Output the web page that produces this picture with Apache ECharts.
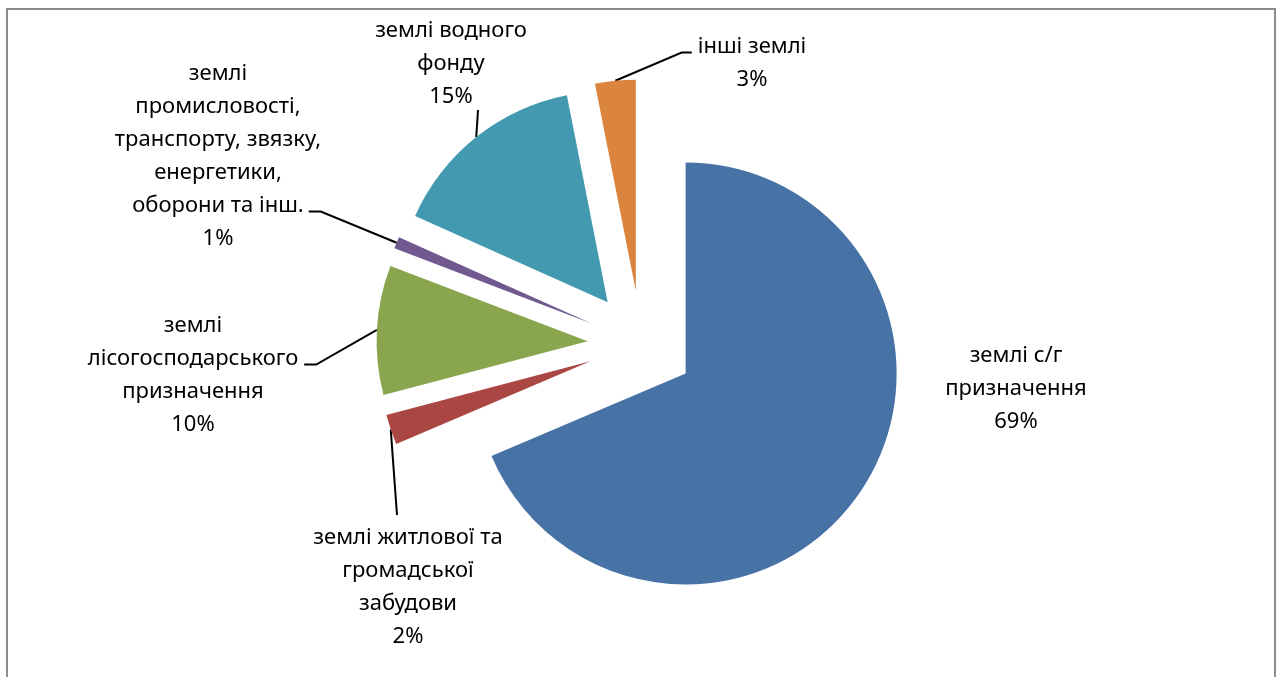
<!DOCTYPE html>
<html>
<head>
<meta charset="utf-8">
<script src="https://cdn.jsdelivr.net/npm/echarts@6/dist/echarts.min.js"></script>
<style>
html,body{margin:0;padding:0;background:#fff;}
#chart{width:1283px;height:677px;}
</style>
</head>
<body>
<div id="chart"></div>
<script>
// Categories (full names) and the label text as shown (with line breaks)
const categories = [
  'землі с/г призначення',
  'землі житлової та громадської забудови',
  'землі лісогосподарського призначення',
  'землі промисловості, транспорту, звязку, енергетики, оборони та інш.',
  'землі водного фонду',
  'інші землі'
];
const labelTexts = [
  'землі с/г\nпризначення',
  'землі житлової та\nгромадської\nзабудови',
  'землі\nлісогосподарського\nпризначення',
  'землі\nпромисловості,\nтранспорту, звязку,\nенергетики,\nоборони та інш.',
  'землі водного\nфонду',
  'інші землі'
];
// Share of each category, %
const values = [68.6, 2.3, 9.9, 0.9, 15.2, 3.1];
const colors = ['#4672A6', '#AA4643', '#89A54E', '#71588F', '#4299B0', '#DB843D'];

// ---- layout (not data) ----
const PIE_CX = 641, PIE_CY = 344, PIE_R = 211, EXPLODE = 53.5;
const FONT_SIZE = 22, LINE_H = 33, FONT_FAMILY = 'Noto Sans';
// label block centres
const labelCenters = [
  [1016, 389], [408, 587], [193, 375], [218, 156], [451, 64], [752, 63]
];
// how each leader line meets its label
const leaders = [
  null,
  {side: 'top', dx: -11, gap: -6},
  {side: 'right', line: 1, gap: 6, elbow: 12},
  {side: 'right', line: 4, gap: 5, elbow: 12},
  {side: 'bottom', dx: 27, gap: 8.5},
  {side: 'left', line: 0, gap: 6, elbow: 10}
];

const measureCtx = document.createElement('canvas').getContext('2d');
measureCtx.font = FONT_SIZE + 'px "' + FONT_FAMILY + '"';

const total = values.reduce((a, b) => a + b, 0);
function fullLabel(i) {
  return labelTexts[i] + '\n' + Math.round(values[i] / total * 100) + '%';
}

let acc = 0;
const midAngles = values.map(v => { const m = (acc + v / 2) / total * 2 * Math.PI; acc += v; return m; });

const chart = echarts.init(document.getElementById('chart'), null, {renderer: 'canvas'});

function makeSeries(k) {
  const center = [PIE_CX + EXPLODE * Math.sin(midAngles[k]), PIE_CY - EXPLODE * Math.cos(midAngles[k])];
  return {
    type: 'pie',
    center: center,
    radius: PIE_R,
    startAngle: 90,
    clockwise: true,
    avoidLabelOverlap: false,
    silent: true,
    emphasis: {disabled: true},
    data: categories.map((name, i) => ({
      name: name,
      value: values[i],
      itemStyle: {color: i === k ? colors[i] : 'rgba(0,0,0,0)'},
      label: {show: i === k},
      labelLine: {show: i === k && i !== 0}
    })),
    label: {
      position: 'outside',
      color: '#000',
      fontFamily: FONT_FAMILY,
      fontSize: FONT_SIZE,
      lineHeight: LINE_H,
      align: 'center',
      formatter: p => fullLabel(p.dataIndex)
    },
    labelLine: {
      length: 20,
      length2: 10,
      lineStyle: {color: '#000', width: 2}
    },
    labelLayout: function (params) {
      const i = params.dataIndex;
      const c = labelCenters[i];
      const out = {x: c[0], y: c[1], align: 'center', verticalAlign: 'middle'};
      const L = leaders[i];
      if (L && params.labelLinePoints) {
        const lines = fullLabel(i).split('\n');
        const h = lines.length * LINE_H;
        const top = c[1] - h / 2;
        const anchor = params.labelLinePoints[0];
        let end, elbow;
        if (L.side === 'right' || L.side === 'left') {
          const w = measureCtx.measureText(lines[L.line]).width;
          const y = top + LINE_H * (L.line + 0.5) + 6;
          if (L.side === 'right') {
            end = [c[0] + w / 2 + L.gap, y];
            elbow = [end[0] + L.elbow, y];
          } else {
            end = [c[0] - w / 2 - L.gap, y];
            elbow = [end[0] - L.elbow, y];
          }
        } else if (L.side === 'top') {
          end = [c[0] + L.dx, top + L.gap];
          elbow = end;
        } else {
          end = [c[0] + L.dx, top + h + L.gap - 12];
          elbow = end;
        }
        out.labelLinePoints = [anchor, elbow, end];
      }
      return out;
    }
  };
}

chart.setOption({
  animation: false,
  backgroundColor: '#ffffff',
  graphic: [{
    type: 'rect',
    shape: {x: 7, y: 9, width: 1268, height: 700},
    style: {fill: 'none', stroke: '#8c8c8c', lineWidth: 2},
    silent: true
  }],
  series: values.map((v, k) => makeSeries(k))
});
</script>
</body>
</html>
